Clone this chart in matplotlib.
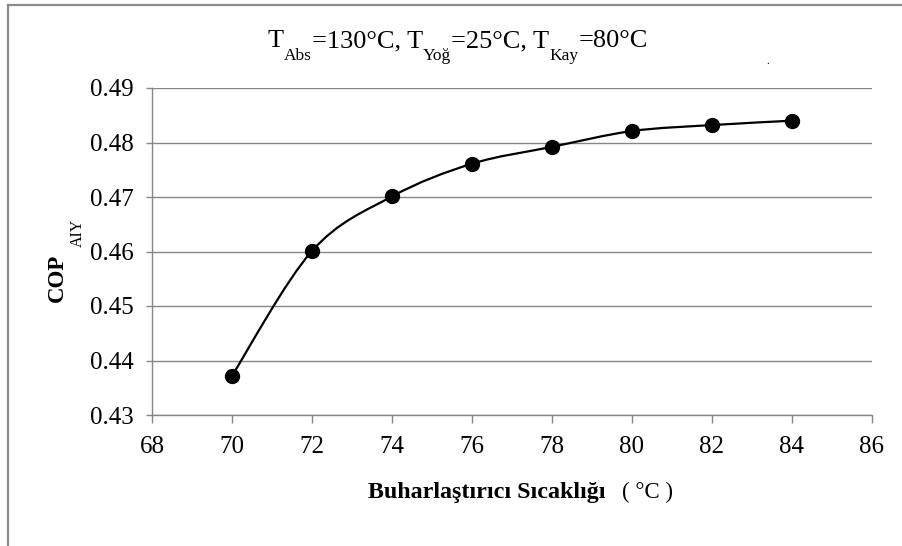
"""
COP vs evaporator temperature, smoothed Excel-style line with markers.
Output: out.png
"""

import matplotlib.pyplot as plt
from matplotlib.lines import Line2D
from matplotlib.patches import PathPatch
from matplotlib.path import Path

# ── data ──────────────────────────────────────────────────────────────────────

evap_temp = [70, 72, 74, 76, 78, 80, 82, 84]
cop = [0.4372, 0.4601, 0.4701, 0.4761, 0.4792, 0.4821, 0.4832, 0.4840]

x_ticks = [68, 70, 72, 74, 76, 78, 80, 82, 84, 86]
y_ticks = [0.43, 0.44, 0.45, 0.46, 0.47, 0.48, 0.49]

# title pieces: (text, is_subscript)
title_parts = [("T", False), ("Abs", True), ("=130°C, T", False), ("Yoğ", True),
               ("=25°C, T", False), ("Kay", True), ("=80°C", False)]

GRID = "#868686"
plt.rcParams["font.family"] = ["Liberation Serif", "DejaVu Serif"]


def smooth_path(xs, ys):
    """Catmull-Rom style bezier through the points (like Excel's smoothed line)."""
    pts = list(zip(xs, ys))
    verts = [pts[0]]
    codes = [Path.MOVETO]
    n = len(pts)
    for i in range(n - 1):
        p0 = pts[i - 1] if i > 0 else pts[i]
        p1 = pts[i]
        p2 = pts[i + 1]
        p3 = pts[i + 2] if i + 2 < n else pts[i + 1]
        c1 = (p1[0] + (p2[0] - p0[0]) / 6, p1[1] + (p2[1] - p0[1]) / 6)
        c2 = (p2[0] - (p3[0] - p1[0]) / 6, p2[1] - (p3[1] - p1[1]) / 6)
        verts += [c1, c2, p2]
        codes += [Path.CURVE4] * 3
    return Path(verts, codes)


W, H = 903, 546
fig = plt.figure(figsize=(W / 100, H / 100), dpi=100)
ax = fig.add_axes([152 / W, 1 - 415 / H, (872 - 152) / W, (415 - 88) / H])

ax.add_patch(PathPatch(smooth_path(evap_temp, cop), fill=False,
                       edgecolor="black", linewidth=1.6, zorder=3))
ax.plot(evap_temp, cop, "o", color="black", markersize=10, zorder=4)

ax.set_xlim(68, 86)
ax.set_ylim(0.43, 0.49)
ax.set_xticks(x_ticks)
ax.set_yticks(y_ticks)
ax.set_yticklabels([f"{v:.2f}" for v in y_ticks])

ax.yaxis.grid(True, color=GRID, linewidth=1.0)
ax.set_axisbelow(True)
for side in ("top", "right"):
    ax.spines[side].set_visible(False)
for side in ("left", "bottom"):
    ax.spines[side].set_color(GRID)
    ax.spines[side].set_linewidth(1.0)

ax.tick_params(axis="y", direction="out", length=4, width=1, color=GRID,
               labelsize=18, pad=9)
ax.tick_params(axis="x", direction="out", length=6, width=1, color=GRID,
               labelsize=18, pad=9)

# y label: bold COP with a dropped subscript
fig.text(57 / W, 1 - 278 / H, "COP", rotation=90, ha="center", va="center",
         fontsize=16.5, fontweight="bold")
fig.text(78 / W, 1 - 233 / H, "AIY", rotation=90, ha="center", va="center",
         fontsize=11.5)

# x label
fig.text(606 / W, 1 - 498 / H, "Buharlaştırıcı Sıcaklığı", ha="right",
         va="baseline", fontsize=17.3, fontweight="bold")
fig.text(622 / W, 1 - 498 / H, "( °C )", ha="left", va="baseline", fontsize=16.5)

# title, laid out piece by piece so the subscripts can drop low
renderer = fig.canvas.get_renderer()
x_px = 268
for text, is_sub in title_parts:
    y_px = 60 if is_sub else 47
    t = fig.text(x_px / W, 1 - y_px / H, text, ha="left", va="baseline",
                 fontsize=12.5 if is_sub else 19)
    x_px += t.get_window_extent(renderer).width
fig.text(768 / W, 1 - 64 / H, ".", ha="center", va="baseline", fontsize=8)

# outer chart frame (top and left edges only are visible)
fig.add_artist(Line2D([8 / W, 1], [1 - 5 / H, 1 - 5 / H], transform=fig.transFigure,
                      color="#8c8c8c", linewidth=1.6))
fig.add_artist(Line2D([8 / W, 8 / W], [0, 1 - 5 / H], transform=fig.transFigure,
                      color="#8c8c8c", linewidth=1.6))

fig.savefig("out.png", dpi=100)
plt.close(fig)
